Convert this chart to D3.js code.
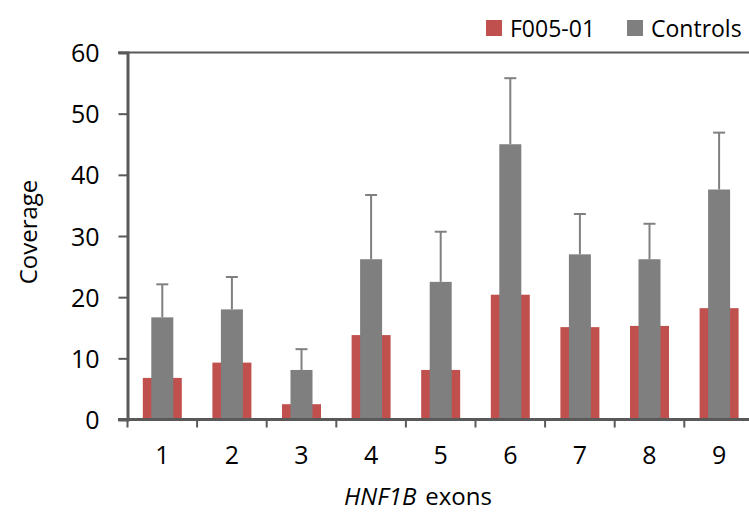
<!DOCTYPE html>
<html>
<head>
<meta charset="utf-8">
<script src="https://cdn.jsdelivr.net/npm/d3@7"></script>
<style>
  body { margin: 0; background: #fff; }
  text { font-family: "Open Sans", "Noto Sans", sans-serif; fill: #000; }
</style>
</head>
<body>
<svg id="chart" width="749" height="516"></svg>
<script>
const exons = ['1', '2', '3', '4', '5', '6', '7', '8', '9'];
const patient = [6.8, 9.3, 2.5, 13.8, 8.1, 20.4, 15.1, 15.3, 18.2];
const controls = [16.7, 18.0, 8.1, 26.2, 22.5, 45.0, 27.0, 26.2, 37.6];
const controlsSD = [5.4, 5.3, 3.4, 10.5, 8.2, 10.8, 6.6, 5.8, 9.3];
const yTicks = [0, 10, 20, 30, 40, 50, 60];
const seriesNames = ['F005-01', 'Controls'];

const RED = '#c0504d';
const GREY = '#7f7f7f';
const AXIS = '#595959';

const LEFT = 127.5;
const BAND = 69.6;
const TOP = 52.5;
const BOTTOM = 419.5;

const svg = d3.select('#chart');

const x = d3.scaleBand()
  .domain(exons)
  .range([LEFT, LEFT + BAND * exons.length])
  .padding(0);

const y = d3.scaleLinear()
  .domain([0, 60])
  .range([BOTTOM, TOP]);

// patient bars (wide, behind)
svg.append('g')
  .selectAll('rect')
  .data(patient)
  .enter()
  .append('rect')
  .attr('x', (d, i) => x(exons[i]) + x.bandwidth() / 2 - 19.5)
  .attr('y', d => y(d))
  .attr('width', 39)
  .attr('height', d => y(0) - y(d))
  .style('fill', RED);

// controls bars (narrow, in front)
svg.append('g')
  .selectAll('rect')
  .data(controls)
  .enter()
  .append('rect')
  .attr('x', (d, i) => x(exons[i]) + x.bandwidth() / 2 - 11)
  .attr('y', d => y(d))
  .attr('width', 22)
  .attr('height', d => y(0) - y(d))
  .style('fill', GREY);

// error bars, upper side only
const err = svg.append('g')
  .selectAll('g')
  .data(controls)
  .enter()
  .append('g')
  .attr('transform', (d, i) => `translate(${x(exons[i]) + x.bandwidth() / 2}, 0)`);

err.append('line')
  .attr('x1', 0).attr('x2', 0)
  .attr('y1', d => y(d))
  .attr('y2', (d, i) => y(d + controlsSD[i]))
  .style('stroke', '#808080')
  .style('stroke-width', 2);

err.append('line')
  .attr('x1', -6).attr('x2', 6)
  .attr('y1', (d, i) => y(d + controlsSD[i]))
  .attr('y2', (d, i) => y(d + controlsSD[i]))
  .style('stroke', '#808080')
  .style('stroke-width', 2);

// top border at max value
svg.append('line')
  .attr('x1', 118).attr('x2', 749)
  .attr('y1', y(60)).attr('y2', y(60))
  .style('stroke', AXIS)
  .style('stroke-width', 2);

// y axis
const yAxis = svg.append('g')
  .attr('transform', `translate(${LEFT}, 0)`)
  .call(d3.axisLeft(y).tickValues(yTicks).tickSize(9).tickPadding(12));

yAxis.select('.domain').style('stroke', AXIS).style('stroke-width', 3);
yAxis.selectAll('.tick line').style('stroke', AXIS).style('stroke-width', 2);
yAxis.selectAll('.tick text')
  .style('font-size', '25px')
  .attr('fill', '#000')
  .attr('x', -28)
  .attr('dy', '0.36em');

// x axis
const xAxis = svg.append('g')
  .attr('transform', `translate(0, ${BOTTOM})`)
  .call(d3.axisBottom(x).tickSize(0).tickPadding(0));

xAxis.select('.domain').remove();
xAxis.append('line')
  .attr('x1', 118).attr('x2', 753)
  .style('stroke', AXIS)
  .style('stroke-width', 3);

xAxis.selectAll('.tick text')
  .style('font-size', '25px')
  .attr('fill', '#000')
  .attr('y', 44)
  .attr('dy', 0);

// ticks between categories
xAxis.selectAll('.sep')
  .data(exons)
  .enter()
  .append('line')
  .attr('class', 'sep')
  .attr('x1', d => x(d)).attr('x2', d => x(d))
  .attr('y1', 0).attr('y2', 8)
  .style('stroke', AXIS)
  .style('stroke-width', 2);

// axis titles
svg.append('text')
  .attr('transform', 'translate(37, 232) rotate(-90)')
  .attr('text-anchor', 'middle')
  .style('font-size', '24px')
  .text('Coverage');

const title = svg.append('text')
  .attr('x', 344)
  .attr('y', 505)
  .style('font-size', '24px');
title.append('tspan').style('font-style', 'italic').text('HNF1B');
title.append('tspan').attr('dx', 9).text('exons');

// legend
const legendX = [486, 627];
const legend = svg.append('g')
  .selectAll('g')
  .data(seriesNames)
  .enter()
  .append('g')
  .attr('transform', (d, i) => `translate(${legendX[i]}, 20)`);

legend.append('rect')
  .attr('width', 16)
  .attr('height', 16)
  .style('fill', (d, i) => i === 0 ? RED : GREY);

legend.append('text')
  .attr('x', 24)
  .attr('y', 17)
  .style('font-size', '23px')
  .text(d => d);
</script>
</body>
</html>
